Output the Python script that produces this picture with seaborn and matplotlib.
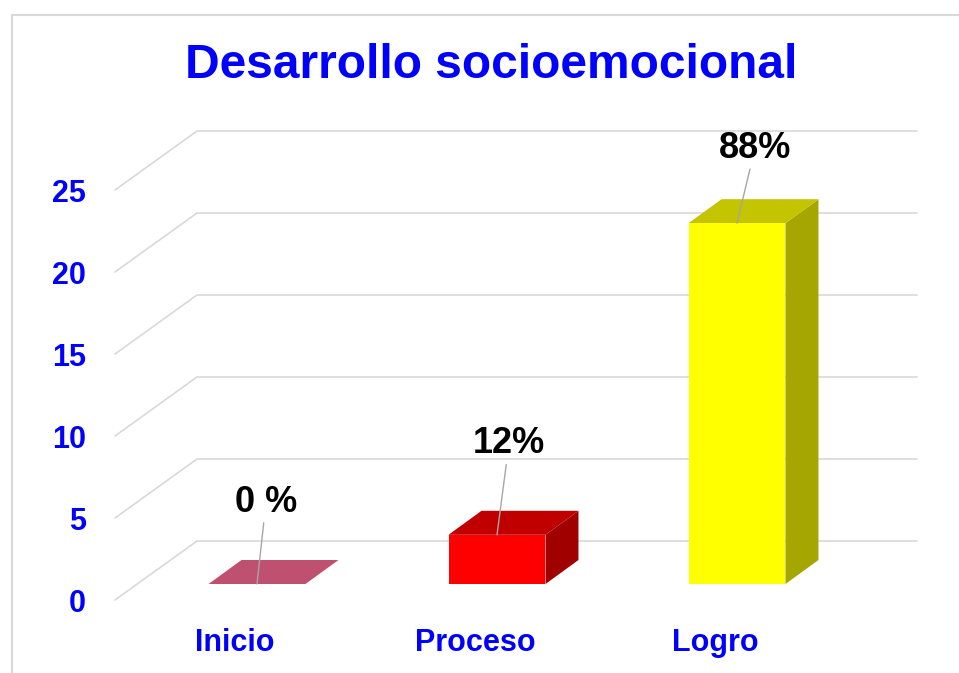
import matplotlib.pyplot as plt
import seaborn as sns
from matplotlib.patches import Polygon, Rectangle

# datos
CATEGORIES = ["Inicio", "Proceso", "Logro"]
VALUES = [0, 3, 22]
PCT_LABELS = ["0 %", "12%", "88%"]
Y_TICKS = [0, 5, 10, 15, 20, 25]

# estilos
FRONT = ["#E0607F", "#FF0000", "#FFFF00"]
TOP = ["#C0506F", "#C00000", "#C4C400"]
SIDE = ["#A04060", "#A00000", "#A6A600"]
BLUE = "#0000FF"
GRID = "#D9D9D9"
LEADER = "#A6A6A6"

W, H = 959, 673
BAR_SHIFT = (22, 16)     # px: plano frontal -> plano de barras
BACK_SHIFT = (82, 59)    # px: plano frontal -> pared del fondo
BAR_DEPTH = (33, 24)     # px: profundidad de cada barra
LABEL_OFFSETS = [(9, 82), (12, 91), (18, 75)]  # px respecto a la cara superior

sns.set_theme(style="white")
plt.rcParams["font.family"] = ["Liberation Sans", "DejaVu Sans"]

fig = plt.figure(figsize=(W / 100, H / 100), dpi=100)
ax = fig.add_axes([115 / W, 73 / H, 720 / W, 410 / H])
ax.set_xlim(-0.5, 2.5)
ax.set_ylim(0, 25)
ax.patch.set_alpha(0)


def to_data(dx, dy):
    # desplazamiento en pixeles -> unidades de datos
    x0, x1 = ax.get_xlim()
    y0, y1 = ax.get_ylim()
    return dx * (x1 - x0) / 720, dy * (y1 - y0) / 410


# rejilla 3D (diagonal + pared del fondo)
bx, by = to_data(*BACK_SHIFT)
xmin, xmax = ax.get_xlim()
for v in Y_TICKS:
    ax.plot([xmin, xmin + bx, xmax + bx], [v, v + by, v + by],
            color=GRID, lw=1.2, clip_on=False, zorder=1)

# caras frontales con seaborn
sns.barplot(x=CATEGORIES, y=VALUES, hue=CATEGORIES, palette=FRONT,
            width=0.404, saturation=1, legend=False, linewidth=0, ax=ax)
ax.set_xlim(xmin, xmax)
ax.set_ylim(0, 25)

sx, sy = to_data(*BAR_SHIFT)
dx, dy = to_data(*BAR_DEPTH)
for i, p in enumerate(ax.patches[:len(VALUES)]):
    x, w, h = p.get_x() + sx, p.get_width(), p.get_height()
    y = sy
    p.set_x(x)
    p.set_y(y)
    p.set_zorder(5)
    p.set_clip_on(False)
    top = Polygon([(x, y + h), (x + w, y + h), (x + w + dx, y + h + dy), (x + dx, y + h + dy)],
                  closed=True, fc=TOP[i], ec="none", zorder=4, clip_on=False)
    side = Polygon([(x + w, y), (x + w + dx, y + dy), (x + w + dx, y + h + dy), (x + w, y + h)],
                   closed=True, fc=SIDE[i], ec="none", zorder=4, clip_on=False)
    ax.add_patch(side)
    ax.add_patch(top)

    ox, oy = LABEL_OFFSETS[i]
    ax.annotate(PCT_LABELS[i], xy=(x + w / 2, y + h), xytext=(ox * 0.72, oy * 0.72),
                textcoords="offset points", ha="center", va="center",
                fontsize=26, fontweight="bold", color="black", zorder=7,
                arrowprops=dict(arrowstyle="-", color=LEADER, lw=1,
                                shrinkA=0, shrinkB=0))

# ejes
ax.set_yticks(Y_TICKS)
ax.set_xticks(range(len(CATEGORIES)))
ax.set_xticklabels(CATEGORIES)
ax.tick_params(axis="y", length=0, pad=21, labelsize=22, labelcolor=BLUE)
ax.tick_params(axis="x", length=0, pad=20, labelsize=22, labelcolor=BLUE)
for lab in ax.get_xticklabels() + ax.get_yticklabels():
    lab.set_fontweight("bold")
for s in ax.spines.values():
    s.set_visible(False)
ax.set_xlabel("")
ax.set_ylabel("")

# titulo y borde (sin lado derecho)
fig.text(491 / W, 1 - 65 / H, "Desarrollo socioemocional", ha="center", va="center",
         fontsize=34.5, fontweight="bold", color=BLUE)
fig.patches.append(Rectangle((12 / W, -0.1), 1.1, 0.1 + (673 - 15) / H,
                             transform=fig.transFigure, fill=False, ec=GRID, lw=1.5))

fig.savefig("out.png", dpi=100)
